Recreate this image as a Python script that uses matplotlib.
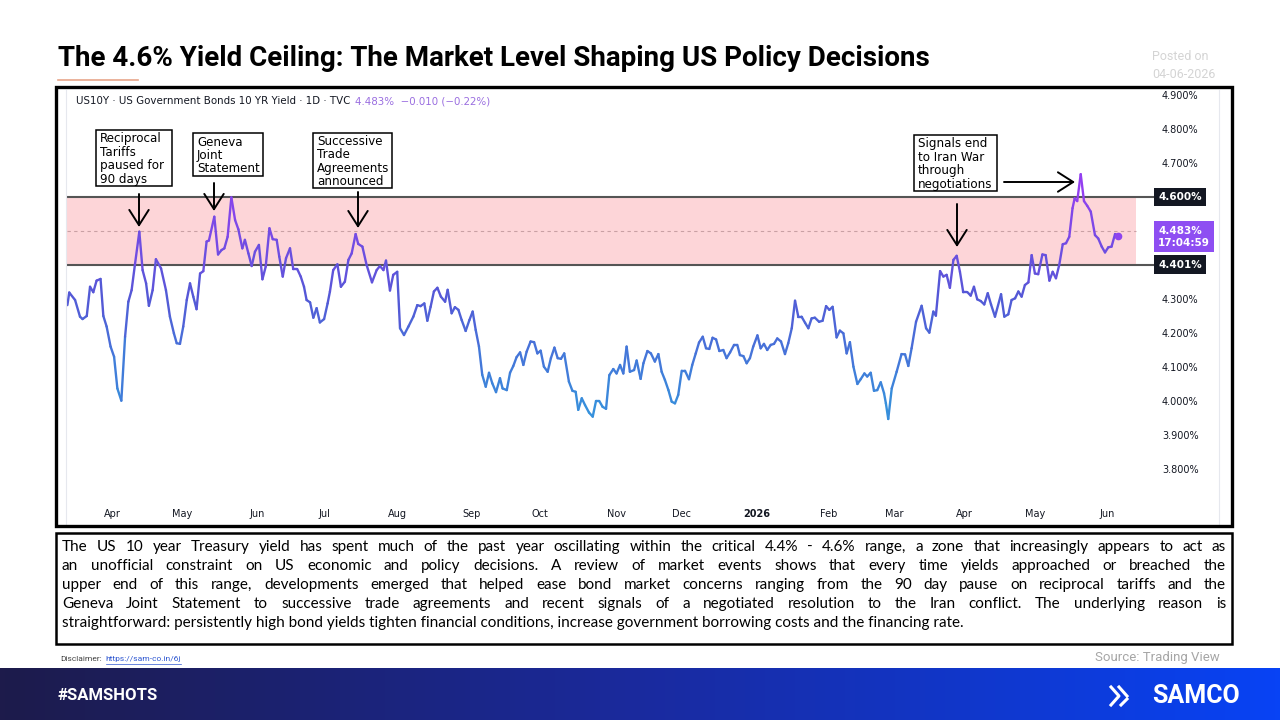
import numpy as np
import pandas as pd
import matplotlib
matplotlib.use('Agg')
import matplotlib.pyplot as plt
import matplotlib.dates as mdates
from matplotlib.collections import LineCollection
from matplotlib.colors import LinearSegmentedColormap
from matplotlib.patches import Rectangle

# ---- data: US10Y daily yield, days counted from 2025-04-01
start = pd.Timestamp('2025-04-01')
days = [-19.1, -18.3, -15.8, -13.7, -12.6, -10.8, -9.4, -8.0, -6.6, -4.9, -3.7, -2.3, -0.6, 0.9, 2.3,
        4.0, 5.6, 7.0, 8.4, 9.8, 11.7, 13.1, 14.6, 15.8, 17.4, 18.8, 21.0, 23.1, 24.8, 26.5, 27.7,
        29.1, 30.5, 32.0, 33.4, 34.8, 36.2, 37.7, 39.1, 40.5, 41.5, 43.8, 45.4, 46.9, 48.1, 49.5,
        51.1, 52.7, 54.1, 55.8, 56.9, 58.4, 59.8, 61.2, 62.9, 64.4, 65.8, 67.4, 68.8, 70.5, 71.6,
        73.1, 74.5, 76.2, 77.6, 79.3, 80.8, 82.2, 83.3, 84.8, 86.2, 87.6, 89.0, 90.8, 92.3,
        93.3, 94.7, 96.5, 98.0, 99.7, 101.2, 102.6, 104.3, 105.4, 107.2, 109.0, 111.3, 113.3, 114.7,
        116.2, 117.3, 119.0, 120.4, 122.1, 123.3, 125.0, 126.9, 129.0, 130.7, 132.1, 133.7, 135.0,
        136.4, 137.8, 139.3, 140.8, 142.6, 143.7, 145.4, 146.8, 148.3, 149.7, 151.4, 153.0, 154.4,
        155.7, 157.1, 158.5, 160.0, 161.4, 162.8, 164.4, 166.1, 167.2, 169.0, 170.4, 171.8, 173.2,
        174.7, 176.1, 177.5, 179.2, 180.7, 182.1, 183.5, 184.9, 186.5, 187.9, 189.4, 190.8, 192.2,
        193.6, 195.6, 197.1, 198.5, 199.6, 201.1, 202.5, 204.2, 205.8, 207.2, 208.6, 210.0, 211.5,
        212.9, 214.6, 216.0, 217.5,
        218.9, 220.3, 221.7, 223.5, 224.6, 226.3, 227.5, 229.2, 230.7, 232.4, 233.9, 235.3, 236.7,
        238.2, 239.6, 241.0, 242.4, 243.9, 245.3, 247.0, 248.4, 249.9, 251.3, 252.9, 254.3, 255.7,
        257.1, 258.6, 260.0, 261.7, 263.1, 264.6, 266.3, 267.7, 268.8, 270.3, 271.7, 273.1, 274.5,
        276.3, 277.7, 279.1, 280.5, 282.0, 283.4, 284.8, 286.4, 288.1, 289.5, 291.0, 292.4, 293.8,
        295.2, 296.7, 298.1, 299.5, 300.9, 302.7, 304.2, 305.7, 307.1, 308.5, 310.2, 311.6, 313.1,
        314.5, 315.9, 317.4, 319.1, 320.5, 322.1, 323.3, 324.8, 326.2, 327.6, 329.1, 330.5, 331.3,
        332.3,
        333.8, 335.9, 338.0, 339.5, 340.9, 342.3, 344.2, 346.6, 348.5, 349.9, 351.6, 352.7, 354.5,
        355.9, 357.3, 358.7, 360.2, 361.6, 363.0, 364.4, 366.2, 367.6, 369.0, 370.4, 371.9, 373.4,
        374.9, 376.3, 378.0, 380.6, 382.0, 383.7, 385.1, 386.6, 388.0, 389.4, 390.8, 392.3, 393.7,
        395.1, 396.5, 398.3, 399.7, 401.3, 402.7, 404.1, 405.5, 407.0, 408.4, 409.8, 411.2, 412.1,
        413.2, 414.7, 416.1, 417.5, 419.0, 420.8, 422.2, 423.7, 425.1, 426.5, 427.9, 429.4, 430.8]
yields = [4.282, 4.319, 4.297, 4.248, 4.241, 4.250, 4.336, 4.320, 4.354, 4.359, 4.250, 4.219, 4.160,
          4.130, 4.037, 4.001, 4.189, 4.292, 4.326, 4.400, 4.498, 4.385, 4.346, 4.280, 4.326, 4.417,
          4.390, 4.326, 4.248, 4.199, 4.170, 4.168, 4.219, 4.297, 4.346, 4.307, 4.270, 4.375, 4.382,
          4.469, 4.472, 4.542, 4.431, 4.444, 4.449, 4.483, 4.599, 4.532, 4.505, 4.449, 4.474, 4.434,
          4.397, 4.439, 4.459, 4.358, 4.395, 4.508, 4.476, 4.474, 4.425, 4.366, 4.420, 4.449, 4.388,
          4.388, 4.366, 4.336, 4.297, 4.290, 4.245, 4.273, 4.231, 4.241, 4.287,
          4.322, 4.385, 4.402, 4.336, 4.351, 4.415, 4.434, 4.491, 4.462, 4.454, 4.400, 4.349, 4.385,
          4.397, 4.385, 4.413, 4.325, 4.371, 4.380, 4.214, 4.194, 4.219, 4.248, 4.282, 4.279, 4.287,
          4.236, 4.277, 4.322, 4.333, 4.307, 4.292, 4.327, 4.258, 4.276, 4.268, 4.238, 4.206, 4.238,
          4.263, 4.209, 4.160, 4.077, 4.042, 4.083, 4.052, 4.026, 4.067, 4.037, 4.032, 4.083, 4.103,
          4.129, 4.143, 4.106, 4.145, 4.175, 4.173, 4.140, 4.148, 4.101, 4.086, 4.126, 4.157, 4.126,
          4.124, 4.140, 4.057, 4.030, 4.027, 3.974, 4.008, 3.988, 3.966, 3.954, 4.000, 4.000, 3.983,
          3.977, 4.076, 4.094, 4.081, 4.106,
          4.081, 4.160, 4.086, 4.091, 4.119, 4.065, 4.111, 4.147, 4.140, 4.116, 4.138, 4.086, 4.062,
          4.032, 3.998, 3.993, 4.018, 4.089, 4.089, 4.064, 4.106, 4.140, 4.172, 4.189, 4.155, 4.153,
          4.186, 4.181, 4.147, 4.150, 4.126, 4.143, 4.165, 4.165, 4.135, 4.132, 4.111, 4.126, 4.160,
          4.193, 4.155, 4.168, 4.150, 4.165, 4.168, 4.184, 4.175, 4.138, 4.170, 4.214, 4.295, 4.248,
          4.248, 4.230, 4.214, 4.243, 4.245, 4.233, 4.236, 4.279, 4.268, 4.277, 4.187, 4.207, 4.199,
          4.140, 4.173, 4.101, 4.050, 4.064, 4.081, 4.072, 4.083, 4.030, 4.032, 4.055, 4.023, 3.993,
          3.947,
          4.037, 4.086, 4.138, 4.137, 4.103, 4.155, 4.233, 4.280, 4.214, 4.201, 4.263, 4.251, 4.382,
          4.366, 4.371, 4.333, 4.415, 4.427, 4.380, 4.320, 4.320, 4.310, 4.336, 4.299, 4.294, 4.284,
          4.317, 4.284, 4.248, 4.314, 4.248, 4.255, 4.297, 4.302, 4.322, 4.307, 4.341, 4.349, 4.429,
          4.375, 4.373, 4.431, 4.429, 4.354, 4.380, 4.361, 4.400, 4.461, 4.464, 4.483, 4.567, 4.596,
          4.588, 4.667, 4.588, 4.574, 4.557, 4.488, 4.478, 4.454, 4.437, 4.452, 4.454, 4.491, 4.486]

zone_low, zone_high, zone_mid = 4.401, 4.600, 4.500
last_price = '4.483%'
countdown = '17:04:59'

month_ticks = ['2025-04-01', '2025-05-01', '2025-06-02', '2025-07-01', '2025-08-01', '2025-09-02',
               '2025-10-01', '2025-11-03', '2025-12-01', '2026-01-02', '2026-02-02', '2026-03-02',
               '2026-04-01', '2026-05-01', '2026-06-01']
month_labels = ['Apr', 'May', 'Jun', 'Jul', 'Aug', 'Sep', 'Oct', 'Nov', 'Dec', '2026', 'Feb', 'Mar',
                'Apr', 'May', 'Jun']
y_ticks = [3.8, 3.9, 4.0, 4.1, 4.2, 4.3, 4.7, 4.8, 4.9]

title = 'The 4.6% Yield Ceiling: The Market Level Shaping US Policy Decisions'
body_lines = [
    'The US 10 year Treasury yield has spent much of the past year oscillating within the critical 4.4% - 4.6% range, a zone that increasingly appears to act as',
    'an unofficial constraint on US economic and policy decisions. A review of market events shows that every time yields approached or breached the',
    'upper end of this range, developments emerged that helped ease bond market concerns ranging from the 90 day pause on reciprocal tariffs and the',
    'Geneva Joint Statement to successive trade agreements and recent signals of a negotiated resolution to the Iran conflict. The underlying reason is',
    'straightforward: persistently high bond yields tighten financial conditions, increase government borrowing costs and the financing rate.',
]

W, H = 1280, 720
fig = plt.figure(figsize=(12.8, 7.2), dpi=100)
fig.patch.set_facecolor('white')
narrow = ['Roboto', 'DejaVu Sans']

# ---- price chart
ax = fig.add_axes([67 / W, 1 - 490 / H, (1155 - 67) / W, (490 - 88) / H])
x = mdates.date2num(start + pd.to_timedelta(days, unit='D'))
y = np.array(yields)
ax.set_xlim(mdates.date2num(start + pd.Timedelta(days=-19.26)),
            mdates.date2num(start + pd.Timedelta(days=446.5)))
ax.set_ylim(3.7382, 4.9206)

band_end = (1136 - 67) / (1155 - 67)
ax.axhspan(zone_low, zone_high, xmax=band_end, color='#fdd5d8', lw=0, zorder=0)
ax.axhline(zone_high, color='#555555', lw=1.5, zorder=1)
ax.axhline(zone_low, color='#555555', lw=1.5, zorder=1)
ax.axhline(zone_mid, xmax=band_end, color='#c9a0a4', lw=0.8, ls=(0, (3, 3)), zorder=1)

cmap = LinearSegmentedColormap.from_list('tv', ['#3594dc', '#5458d6', '#9b3cf4'])
pts = np.column_stack([x, y]).reshape(-1, 1, 2)
segs = np.concatenate([pts[:-1], pts[1:]], axis=1)
lc = LineCollection(segs, cmap=cmap, norm=plt.Normalize(3.95, 4.67), lw=1.7, zorder=3,
                    capstyle='round', joinstyle='round')
lc.set_array((y[:-1] + y[1:]) / 2)
ax.add_collection(lc)
ax.plot(x[-1], y[-1], 'o', ms=4.5, color='#8e44ef', zorder=4)

for s in ax.spines.values():
    s.set_visible(False)
ax.yaxis.tick_right()
ax.set_yticks(y_ticks)
ax.set_yticklabels([f'{v:.3f}%' for v in y_ticks], fontsize=7, color='#131722')
ax.set_xticks(mdates.date2num(pd.to_datetime(month_ticks)))
ax.set_xticklabels(month_labels, fontsize=7, color='#131722')
for lab in ax.get_xticklabels():
    if lab.get_text() == '2026':
        lab.set_fontweight('bold')
ax.tick_params(axis='both', length=0)
ax.tick_params(axis='y', pad=5)
ax.tick_params(axis='x', pad=14)
ax.set_facecolor('none')

# right-hand price labels
trans = ax.get_yaxis_transform()
for val, txt in [(zone_high, '4.600%'), (zone_low, '4.401%')]:
    ax.text(1.003, val, txt, transform=trans, ha='left', va='center', fontsize=7.5, color='white',
            fontweight='bold', zorder=6, clip_on=False,
            bbox=dict(boxstyle='square,pad=0.4', fc='#131722', ec='none'))
ax.text(1.003, 4.483, last_price + '\n' + countdown, transform=trans, ha='left', va='center',
        fontsize=7.5, color='white', fontweight='bold', linespacing=1.3, zorder=6, clip_on=False,
        bbox=dict(boxstyle='square,pad=0.4', fc='#8e4ef2', ec='none'))

# ---- overlay in pixel coordinates
ov = fig.add_axes([0, 0, 1, 1], zorder=5)
ov.set_xlim(0, W)
ov.set_ylim(H, 0)
ov.axis('off')
r = fig.canvas.get_renderer()


def fit_width(t, target):
    w = t.get_window_extent(r).width
    t.set_fontsize(t.get_fontsize() * target / w)


t = ov.text(58, 58, title, fontsize=20, fontweight='bold', family=narrow, va='center', color='black')
fit_width(t, 872)
ov.plot([58, 138], [80, 80], color='#e8a58a', lw=1.2)
ov.text(1152, 56, 'Posted on', fontsize=9, family=narrow, color='#d4d4d4', va='center')
ov.text(1152, 74, '04-06-2026', fontsize=9, family=narrow, color='#d4d4d4', va='center')

# chart frame
ov.add_patch(Rectangle((56, 87), 1176, 439, fc='none', ec='black', lw=2.4, zorder=10))
ov.plot([66, 66], [90, 524], color='#e6e8ee', lw=0.8)
ov.plot([1219, 1219], [90, 524], color='#e6e8ee', lw=0.8)

t = ov.text(76, 101, 'US10Y \u00b7 US Government Bonds 10 YR Yield \u00b7 1D \u00b7 TVC', fontsize=7,
            color='#131722', va='center')
fit_width(t, 275)
ov.text(355, 101, '4.483%  \u22120.010 (\u22120.22%)', fontsize=t.get_fontsize(), color='#9a6ee0',
        va='center')

# event boxes and arrows
events = [
    ('Reciprocal\nTariffs\npaused for\n90 days', (96, 130, 76, 56)),
    ('Geneva\nJoint\nStatement', (193, 133, 70, 43)),
    ('Successive\nTrade\nAgreements\nannounced', (313, 133, 79, 55)),
    ('Signals end\nto Iran War\nthrough\nnegotiations', (914, 135, 83, 56)),
]
for txt, (bx, by, bw, bh) in events:
    ov.add_patch(Rectangle((bx, by), bw, bh, fc='white', ec='black', lw=1.1, zorder=6))
    ov.text(bx + 4, by + bh / 2 + 1, txt, fontsize=8.6, color='black', va='center', ha='left',
            linespacing=1.05, zorder=7)

arrows = [((139, 194), (139, 227)), ((214, 183), (214, 211)), ((358, 192), (358, 228)),
          ((957, 204), (957, 247)), ((1004, 182), (1075, 182))]
for (x0, y0), (x1, y1) in arrows:
    ov.annotate('', xy=(x1, y1), xytext=(x0, y0), zorder=7,
                arrowprops=dict(arrowstyle='->,head_length=0.55,head_width=0.35', color='black',
                                lw=1.4, mutation_scale=20, shrinkA=0, shrinkB=0))

# ---- commentary box
ov.add_patch(Rectangle((56, 533), 1176, 111, fc='none', ec='black', lw=1.8))
body_kw = dict(family=['Lato', 'DejaVu Sans'], color='black', va='center')
size = 11
probe = ov.text(0, 0, max(body_lines, key=len), fontsize=size, **body_kw)
natural = probe.get_window_extent(r).width
probe.remove()
if natural > 1150:
    size *= 1150 / natural
x0, x1 = 62, 1226
for i, line in enumerate(body_lines):
    yy = 547 + i * 19
    if i == len(body_lines) - 1:
        ov.text(x0, yy, line, fontsize=size, **body_kw)
        continue
    words = line.split()
    ts = [ov.text(0, yy, w, fontsize=size, **body_kw) for w in words]
    ws = [tt.get_window_extent(r).width for tt in ts]
    gap = (x1 - x0 - sum(ws)) / (len(words) - 1)
    xx = x0
    for tt, w in zip(ts, ws):
        tt.set_x(xx)
        xx += w + gap

# ---- footer
d = ov.text(60, 659, 'Disclaimer:', fontsize=6, family=narrow, color='#444444', va='center')
lx = 60 + d.get_window_extent(r).width + 4
lk = ov.text(lx, 659, 'https://sam-co.in/6j', fontsize=6, family=narrow, color='#2c55d0', va='center')
bb = lk.get_window_extent(r)
ov.plot([lx, lx + bb.width], [664, 664], color='#2c55d0', lw=0.5)
ov.text(1220, 658, 'Source: Trading View', fontsize=9.5, family=narrow, color='#a6a6a6',
        va='center', ha='right')

band = fig.add_axes([0, 0, 1, 52 / H], zorder=1)
grad = np.linspace(0, 1, 256).reshape(1, -1)
band.imshow(grad, aspect='auto', extent=[0, W, 0, 52],
            cmap=LinearSegmentedColormap.from_list('bn', ['#1d1b4b', '#1a2a9e', '#0843f5']))
band.axis('off')
t = ov.text(58, 695, '#SAMSHOTS', fontsize=18, fontweight='bold', family=narrow, color='white',
            va='center', zorder=8)
fit_width(t, 100)
ov.text(1240, 696, 'SAMCO', fontsize=18, fontweight='bold', family=['Roboto', 'DejaVu Sans'],
        color='white', va='center', ha='right', zorder=8)
ov.plot([1111, 1119, 1111], [687, 696, 705], color='white', lw=2.2, zorder=8)
ov.plot([1119, 1127], [687, 696], color='white', lw=2.2, zorder=8)
ov.plot([1121, 1127], [705, 699], color='white', lw=2.2, zorder=8)

fig.savefig('out.png', dpi=100, facecolor='white')
